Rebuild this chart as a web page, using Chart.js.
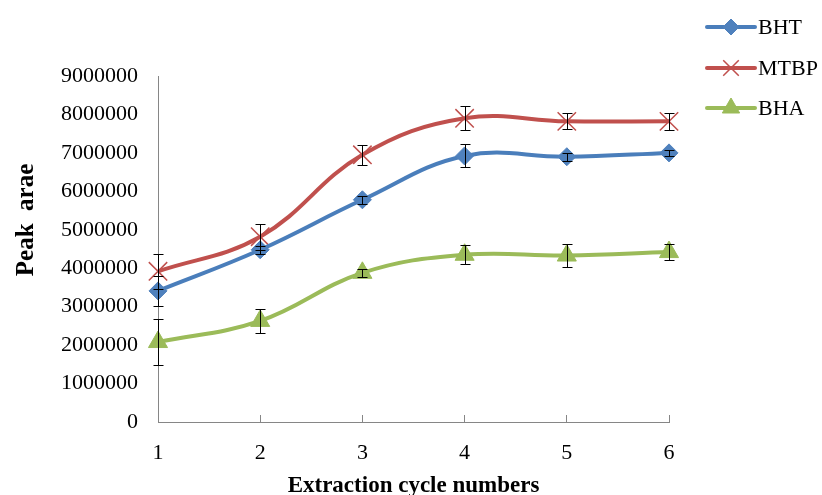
<!DOCTYPE html>
<html>
<head>
<meta charset="utf-8">
<script src="https://cdn.jsdelivr.net/npm/chart.js@4.4.0/dist/chart.umd.min.js"></script>
<style>
  html, body { margin: 0; padding: 0; background: #ffffff; }
  #wrap { width: 822px; height: 495px; position: relative; }
</style>
</head>
<body>
<div id="wrap"><canvas id="c" width="822" height="495"></canvas></div>
<script>
// Peak area of each antioxidant against the number of extraction cycles
const cycles = ['1', '2', '3', '4', '5', '6'];
const bht = [3410000, 4480000, 5780000, 6920000, 6900000, 7000000];
const bhtErr = [390000, 100000, 100000, 300000, 100000, 80000];
const mtbp = [3920000, 4820000, 6950000, 7900000, 7820000, 7820000];
const mtbpErr = [450000, 340000, 260000, 310000, 210000, 230000];
const bha = [2080000, 2630000, 3880000, 4350000, 4330000, 4420000];
const bhaErr = [590000, 310000, 100000, 250000, 300000, 200000];
const yTicks = [0, 1000000, 2000000, 3000000, 4000000, 5000000, 6000000, 7000000, 8000000, 9000000];

const serif = "'Liberation Serif', 'Times New Roman', serif";
const axisGray = '#868686';

const series = [
  { label: 'BHT', data: bht, err: bhtErr, color: '#4A7EBB', fill: '#4F81BD', style: 'rectRot', radius: 9, legendRadius: 8, markerWidth: 1 },
  { label: 'MTBP', data: mtbp, err: mtbpErr, color: '#C0504D', fill: '#C0504D', style: 'crossRot', radius: 13, legendRadius: 11, markerWidth: 1.5 },
  { label: 'BHA', data: bha, err: bhaErr, color: '#9BBB59', fill: '#9BBB59', style: 'triangle', radius: 11, legendRadius: 10, markerWidth: 1 }
];

// White page behind the chart
const background = {
  id: 'background',
  beforeDraw(chart) {
    const ctx = chart.ctx;
    ctx.save();
    ctx.fillStyle = '#ffffff';
    ctx.fillRect(0, 0, chart.width, chart.height);
    ctx.restore();
  }
};

// Vertical error bars with short caps, drawn on top of the lines
const errorBars = {
  id: 'errorBars',
  afterDatasetsDraw(chart) {
    const ctx = chart.ctx;
    const xs = chart.scales.x, ys = chart.scales.y;
    ctx.save();
    ctx.strokeStyle = '#000000';
    ctx.lineWidth = 1;
    series.forEach(s => {
      s.data.forEach((v, i) => {
        const e = s.err[i];
        const x = Math.round(xs.getPixelForValue(i)) + 0.5;
        const y1 = Math.round(ys.getPixelForValue(v + e)) + 0.5;
        const y2 = Math.round(ys.getPixelForValue(v - e)) + 0.5;
        ctx.beginPath();
        ctx.moveTo(x, y1); ctx.lineTo(x, y2);
        ctx.moveTo(x - 5, y1); ctx.lineTo(x + 5, y1);
        ctx.moveTo(x - 5, y2); ctx.lineTo(x + 5, y2);
        ctx.stroke();
      });
    });
    ctx.restore();
  }
};

// Legend at the top right: line sample with the marker in its middle
const sideLegend = {
  id: 'sideLegend',
  afterDraw(chart) {
    const ctx = chart.ctx;
    const x0 = 707, x1 = 755, rows = [27, 68, 108];
    ctx.save();
    series.forEach((s, k) => {
      const y = rows[k];
      ctx.strokeStyle = s.color;
      ctx.lineWidth = 4;
      ctx.lineCap = 'round';
      ctx.beginPath();
      ctx.moveTo(x0, y); ctx.lineTo(x1, y);
      ctx.stroke();
      ctx.lineCap = 'butt';
      ctx.fillStyle = s.fill;
      ctx.strokeStyle = s.fill;
      ctx.lineWidth = s.markerWidth;
      Chart.helpers.drawPoint(ctx, {
        pointStyle: s.style, radius: s.legendRadius, rotation: 0,
        borderWidth: s.markerWidth
      }, (x0 + x1) / 2, y);
      ctx.fillStyle = '#000000';
      ctx.font = '22px ' + serif;
      ctx.textAlign = 'left';
      ctx.textBaseline = 'middle';
      ctx.fillText(s.label, 758, y + 1);
    });
    ctx.restore();
  }
};

// Vertical axis title
const yTitle = {
  id: 'yTitle',
  afterDraw(chart) {
    const ctx = chart.ctx;
    ctx.save();
    ctx.translate(27, 220);
    ctx.rotate(-Math.PI / 2);
    ctx.fillStyle = '#000000';
    ctx.font = 'bold 25px ' + serif;
    ctx.textAlign = 'center';
    ctx.textBaseline = 'middle';
    ctx.fillText('Peak  arae', 0, 0);
    ctx.restore();
  }
};

const datasets = series.map(s => ({
  label: s.label,
  data: s.data,
  borderColor: s.color,
  backgroundColor: s.fill,
  borderWidth: 4,
  tension: 0.4,
  pointStyle: s.style,
  pointRadius: s.radius,
  pointHoverRadius: s.radius,
  pointBackgroundColor: s.fill,
  pointBorderColor: s.fill,
  pointBorderWidth: s.markerWidth,
  clip: false,
  fill: false
}));

new Chart(document.getElementById('c'), {
  type: 'line',
  data: { labels: cycles, datasets },
  plugins: [background, errorBars, sideLegend, yTitle],
  options: {
    responsive: false,
    animation: false,
    events: [],
    layout: { padding: { left: 0, right: 153, top: 76, bottom: 0 } },
    plugins: { legend: { display: false }, tooltip: { enabled: false } },
    scales: {
      x: {
        type: 'category',
        offset: false,
        grid: { display: true, drawOnChartArea: false, drawTicks: true, tickLength: -7, color: axisGray, lineWidth: 1 },
        border: { display: true, color: axisGray, width: 1 },
        ticks: { color: '#000000', font: { family: serif, size: 22 }, padding: 25, maxRotation: 0, autoSkip: false },
        title: {
          display: true, text: 'Extraction cycle numbers', color: '#000000',
          font: { family: serif, size: 23, weight: 'bold', lineHeight: 1 },
          padding: { top: 0, bottom: -3 }
        },
        afterFit(scale) { scale.height = 73; }
      },
      y: {
        min: 0, max: 9000000,
        afterBuildTicks(scale) { scale.ticks = yTicks.map(v => ({ value: v })); },
        grid: { display: false, drawTicks: false },
        border: { display: true, color: axisGray, width: 1 },
        ticks: { color: '#000000', font: { family: serif, size: 22 }, padding: 20, callback: v => String(v) },
        afterFit(scale) { scale.width = 158; }
      }
    }
  }
});
</script>
</body>
</html>
